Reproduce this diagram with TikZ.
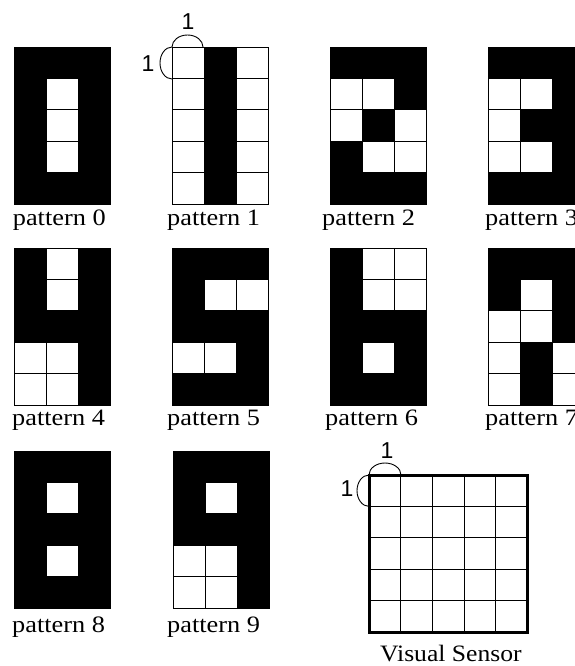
\documentclass[tikz,border=0pt]{standalone}
\usepackage{fontspec}
\setmainfont{Liberation Serif}
\newfontfamily\arialf{Liberation Sans}
\tikzset{
  cell0/.style={draw=black,fill=white,line width=0.9pt},
  cell1/.style={draw=black,fill=black,line width=0.9pt},
  plabel/.style={anchor=base west,inner sep=0pt,font=\fontsize{23.5}{24}\selectfont},
  onelabel/.style={anchor=center,inner sep=0pt,font=\arialf\fontsize{23}{24}\selectfont},
  unitarc/.style={draw=black,line width=0.9pt},
  thin grid/.style={draw=black,line width=0.9pt},
  thick border/.style={draw=black,line width=3pt}
}
\newcommand\digitpat[3]{%
  \foreach \v [count=\k from 0] in {#3}{%
    \pgfmathtruncatemacro\cc{mod(\k,3)}%
    \pgfmathtruncatemacro\rr{floor(\k/3)}%
    \draw[cell\v] ({#1+\cc*32},{#2+\rr*31.4}) rectangle ++(32,31.4);
  }}
\newcommand\plab[4]{\node[plabel] (#1) at (#2,#3) {\scalebox{1.12}[1]{#4}};}
\begin{document}
\begin{tikzpicture}[x=1pt,y=-1pt]
\useasboundingbox (0,0) rectangle (575,666);
\clip (0,0) rectangle (575,666);
% row 1
\digitpat{14}{47}{1,1,1, 1,0,1, 1,0,1, 1,0,1, 1,1,1}
\digitpat{172}{47}{0,1,0, 0,1,0, 0,1,0, 0,1,0, 0,1,0}
\digitpat{330}{47}{1,1,1, 0,0,1, 0,1,0, 1,0,0, 1,1,1}
\digitpat{488}{47}{1,1,1, 0,0,1, 0,1,1, 0,0,1, 1,1,1}
% row 2
\digitpat{14}{248}{1,0,1, 1,0,1, 1,1,1, 0,0,1, 0,0,1}
\digitpat{172}{248}{1,1,1, 1,0,0, 1,1,1, 0,0,1, 1,1,1}
\digitpat{330}{248}{1,0,0, 1,0,0, 1,1,1, 1,0,1, 1,1,1}
\digitpat{488}{248}{1,1,1, 1,0,1, 0,0,1, 0,1,0, 0,1,0}
% row 3
\digitpat{14}{451}{1,1,1, 1,0,1, 1,1,1, 1,0,1, 1,1,1}
\digitpat{173}{451}{1,1,1, 1,0,1, 1,1,1, 0,0,1, 0,0,1}
% labels
\plab{l0}{12.7}{225}{pattern 0}
\plab{l1}{167}{225}{pattern 1}
\plab{l2}{322}{225}{pattern 2}
\plab{l3}{485}{225}{pattern 3}
\plab{l4}{12}{425}{pattern 4}
\plab{l5}{167}{425}{pattern 5}
\plab{l6}{325}{425}{pattern 6}
\plab{l7}{485}{425}{pattern 7}
\plab{l8}{12}{632}{pattern 8}
\plab{l9}{167}{632}{pattern 9}
% unit marks on pattern 1
\draw[unitarc] (172,47) arc[start angle=180,end angle=0,x radius=15.5pt,y radius=12pt];
\draw[unitarc] (172,47) arc[start angle=90,end angle=270,x radius=12pt,y radius=16pt];
\node[onelabel] (p1top) at (188,21.5) {1};
\node[onelabel] (p1left) at (148,63.5) {1};
% visual sensor
\foreach \i in {1,...,4}{
  \draw[thin grid] ({369+\i*31.66},475) -- ({369+\i*31.66},632);
  \draw[thin grid] (369,{475+\i*31.4}) -- (527.3,{475+\i*31.4});
}
\draw[thick border] (369,475) rectangle (527.3,632);
\draw[unitarc] (369,475) arc[start angle=180,end angle=0,x radius=16pt,y radius=12pt];
\draw[unitarc] (369,475) arc[start angle=90,end angle=270,x radius=12pt,y radius=15.7pt];
\node[onelabel] (vstop) at (387,450.5) {1};
\node[onelabel] (vsleft) at (347,488.5) {1};
\node[plabel] (vs) at (380,661.5) {\scalebox{1.09}[1]{Visual Sensor}};
\end{tikzpicture}
\end{document}
